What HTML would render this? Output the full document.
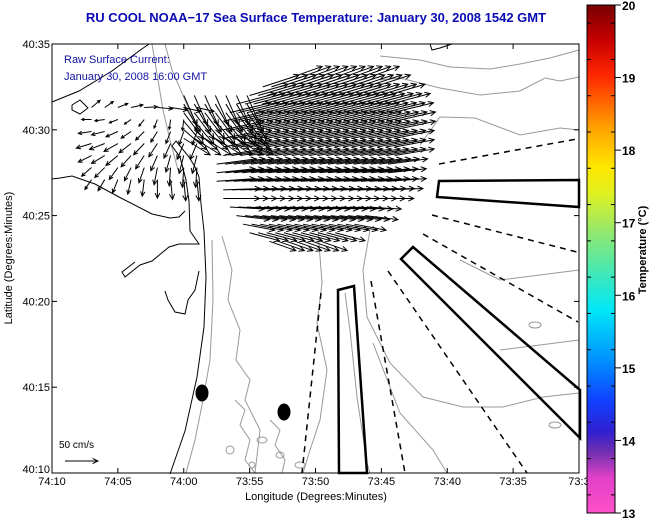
<!DOCTYPE html>
<html><head><meta charset="utf-8"><style>
html,body{margin:0;padding:0;background:#fff;}
svg{display:block;font-family:"Liberation Sans",Arial,sans-serif;}
</style></head><body>
<svg id="chart" width="651" height="518" viewBox="0 0 651 518">
<defs>
<linearGradient id="jet" x1="0" y1="1" x2="0" y2="0">
<stop offset="0" stop-color="#ff50c8"/>
<stop offset="0.07" stop-color="#e040c8"/>
<stop offset="0.12" stop-color="#7030b0"/>
<stop offset="0.16" stop-color="#3020d0"/>
<stop offset="0.22" stop-color="#1040ff"/>
<stop offset="0.30" stop-color="#0090ff"/>
<stop offset="0.40" stop-color="#00e8f8"/>
<stop offset="0.47" stop-color="#40e8b8"/>
<stop offset="0.55" stop-color="#90e870"/>
<stop offset="0.63" stop-color="#e0f020"/>
<stop offset="0.68" stop-color="#ffe800"/>
<stop offset="0.76" stop-color="#ffa000"/>
<stop offset="0.86" stop-color="#ff2800"/>
<stop offset="0.93" stop-color="#c80000"/>
<stop offset="1" stop-color="#780000"/>
</linearGradient>
</defs>
<rect x="0" y="0" width="651" height="518" fill="#fff"/>
<g id="gray" fill="none" stroke="#999" stroke-width="1"></g>
<g id="coast" fill="none" stroke="#000" stroke-width="1"></g>
<g id="lanes" fill="none" stroke="#000"></g>
<g id="arrows" fill="none" stroke="#000" stroke-width="1"></g>
<g id="axes"></g>
<text x="316" y="22" text-anchor="middle" font-size="13" font-weight="bold" fill="#0a0ab4">RU COOL  NOAA−17  Sea Surface Temperature:  January 30, 2008 1542 GMT</text>
<text x="64" y="63" font-size="11" fill="#1414a0">Raw Surface Current:</text>
<text x="64" y="80" font-size="11" fill="#1414a0">January 30, 2008 16:00 GMT</text>
<text x="59" y="448" font-size="10" fill="#000">50 cm/s</text>
<text x="316" y="500" text-anchor="middle" font-size="11" fill="#000">Longitude (Degrees:Minutes)</text>
<text transform="translate(12,258) rotate(-90)" text-anchor="middle" font-size="11" fill="#000">Latitude (Degrees:Minutes)</text>
<rect x="587" y="5" width="28" height="508" fill="url(#jet)" stroke="#000" stroke-width="1"/>
<g id="cbticks"></g>
<text transform="translate(646,250) rotate(-90)" text-anchor="middle" font-size="11" font-weight="bold" fill="#000">Temperature (°C)</text>
</svg>
<script>
// ---- data ----
const xTickLabels = ["74:10","74:05","74:00","73:55","73:50","73:45","73:40","73:35","73:3"];
const xTickMin = [70,65,60,55,50,45,40,35,30];
const yTickLabels = ["40:10","40:15","40:20","40:25","40:30","40:35"];
const yTickMin = [10,15,20,25,30,35];
const cbValues = [13,14,15,16,17,18,19,20];
// main current field rows
const rowLat = [33.0,32.5,32.0,31.5,31.0,30.5,30.0,29.5,29.0,28.5,28.0,27.5,27.0,26.5,26.0,25.5,25.0,24.5,24.0,23.5];
const rowW = [52,54,55,56,56.5,57,57,57,57,57,57.5,57.5,57.5,57,57,56.5,56,55.5,55,53.5];
const rowE = [46,45,44.5,44,44,44,44,44,44,44,44,44,44.5,44.5,45,45.5,46,47,48,49.5];
const rowU = [50,55,58,60,62,62,62,60,60,60,60,58,58,56,55,52,50,48,45,40];
const rowV = [18,18,17,16,15,14,13,12,11,10,8,6,4,2,0,-3,-6,-9,-12,-14];
// near-shore field
const leftLat = [31.3,30.6,29.9,29.2,28.5,27.8,27.1];
const leftLon = [67,66,65,64,63,62,61,60,59];
const leftU = [18,-10,-15,-18,-15,-10,-5];
const leftV = [6,-5,-8,-12,-15,-18,-20];
const leftColDU = [-5,-5,-3,0,2,5,8,8,8];
const leftColDV = [5,3,0,-2,-5,-8,-10,-12,-12];
// Sandy Hook field
const hookLat = [32.0,31.5,31.0,30.5,30.0,29.5];
const hookLon = [60.0,59.2,58.4,57.6,56.8,56.0,55.2];
const hookU = [20,25,30,30,35,40];
const hookV = [-45,-42,-40,-35,-30,-25];

// ---- scales ----
const X0=52,X1=579,Y0=44,Y1=473;
function xs(lonMin){return X0+(70-lonMin)*(X1-X0)/40;}
function ys(latMin){return Y1-(latMin-10)*(Y1-Y0)/25;}
const velScale = 33/50;
const NS="http://www.w3.org/2000/svg";
function mk(tag,attrs,parent){const e=document.createElementNS(NS,tag);for(const k in attrs)e.setAttribute(k,attrs[k]);parent.appendChild(e);return e;}

// ---- background map ----
const gray=document.getElementById('gray');
const grayLines=[
"212,240 213,300 210,360 203,400 195,440 186,473",
"222,236 232,270 228,300 240,330 236,360 250,380 245,400 260,430 255,473",
"318,230 322,283 317,323 327,370 320,420 310,450 303,473",
"345,293 350,330 357,397 367,463 370,473",
"370,230 363,270 367,317 390,363 423,397 463,407 503,407 543,397 579,393",
"373,343 400,413 433,450 447,473",
"380,56 420,60 450,67 490,69 520,64 550,58 579,50",
"380,80 400,78 440,88 480,95 520,91 545,78 560,81 579,77",
"420,145 440,117 475,118 520,135 560,128 579,130",
"152,44 158,80 163,110 170,140 178,170",
"165,44 172,70 185,100 198,130",
"460,260 500,280 540,275 579,270",
"500,350 540,345 579,340",
"235,400 245,410 240,425 250,440 245,460 255,473",
"270,420 280,430 275,445 285,460 282,473"];
grayLines.forEach(p=>{const e=mk('polyline',{points:p},gray);

});
[[262,440,5,3],[280,455,4,3],[230,450,4,4],[300,465,5,3],[252,465,3,3],[535,325,6,3],[555,425,6,3]].forEach(c=>{const e=mk('ellipse',{cx:c[0],cy:c[1],rx:c[2],ry:c[3]},gray);

});

const coast=document.getElementById('coast');
const coastLines=[
"170,474 185,431 197,377 204,327 206,277 204,231 201,204 199,177 195,167 189,157 176,141 172,146 180,157 186,180 189,201 190,231 199,244 189,244 179,244 169,247 152,261 140,265 125,277 122,272 135,262",
"52,179 60,178 72,176 95,184 119,197 152,214 170,218 179,217 185,211",
"52,102 79,91 112,71 139,51 149,44",
"165,291 168,300 175,312 185,314 188,300 195,290 199,271",
"430,44 432,50 440,48 452,44",
"72,105 80,100 88,108 80,114 72,110 72,105"];
coastLines.forEach(p=>{const e=mk('polyline',{points:p},coast);

});

// ---- shipping lanes ----
const lanes=document.getElementById('lanes');
[["439,181 579,180 579,207 437,197"],["401,259 413,247 580,390 580,438"],["338,290 354,286 367,473 339,473"]].forEach(p=>{const e=mk('polygon',{points:p[0],'stroke-width':2.5},lanes);

});
[[439,164,577,139],[432,215,577,252],[423,234,578,322],[388,271,527,473],[371,281,405,473],[321,293,302,473]].forEach(l=>{const e=mk('line',{x1:l[0],y1:l[1],x2:l[2],y2:l[3],'stroke-width':1.5,'stroke-dasharray':'6,5'},lanes);

});
[[202,393],[284,412]].forEach(c=>{const e=mk('ellipse',{cx:c[0],cy:c[1],rx:6.5,ry:8.5,fill:'#000',stroke:'none'},lanes);

});

// ---- arrows ----
const ag=document.getElementById('arrows');
function arrow(x,y,u,v,name){
  const dx=u*velScale, dy=-v*velScale;
  const x2=x+dx,y2=y+dy,L=Math.hypot(dx,dy)||1,a=Math.atan2(dy,dx),h=Math.min(6,L*0.3);
  const d=`M${x},${y}L${x2},${y2}M${x2-h*Math.cos(a-0.45)},${y2-h*Math.sin(a-0.45)}L${x2},${y2}L${x2-h*Math.cos(a+0.45)},${y2-h*Math.sin(a+0.45)}`;
  const e=mk('path',{d:d},ag);
  
  
}
rowLat.forEach((lat,i)=>{
  for(let lon=rowW[i]; lon>=rowE[i]-0.01; lon-=0.65){
    arrow(xs(lon),ys(lat),rowU[i],rowV[i],'current-vector');
  }
});
leftLat.forEach((lat,i)=>{
  leftLon.forEach((lon,j)=>{
    arrow(xs(lon),ys(lat),leftU[i]+leftColDU[j],leftV[i]+leftColDV[j],'nearshore-vector');
  });
});
hookLat.forEach((lat,i)=>{
  hookLon.forEach(lon=>{
    arrow(xs(lon),ys(lat),hookU[i],hookV[i],'hook-vector');
  });
});
arrow(65,461,50,0,'scale-arrow');

// ---- axes ----
const ax=document.getElementById('axes');
const frame=mk('rect',{x:X0,y:Y0,width:X1-X0,height:Y1-Y0,fill:'none',stroke:'#000','stroke-width':1},ax);


xTickMin.forEach((m,i)=>{
  const x=xs(m);
  mk('line',{x1:x,y1:Y1,x2:x,y2:Y1-5,stroke:'#000'},ax);
  mk('line',{x1:x,y1:Y0,x2:x,y2:Y0+5,stroke:'#000'},ax);
  const t=mk('text',{x:x,y:Y1+12,'text-anchor':'middle','font-size':11},ax);
  t.textContent=xTickLabels[i];
  
  
});
yTickMin.forEach((m,i)=>{
  const y=ys(m);
  mk('line',{x1:X0,y1:y,x2:X0+5,y2:y,stroke:'#000'},ax);
  mk('line',{x1:X1,y1:y,x2:X1-5,y2:y,stroke:'#000'},ax);
  const t=mk('text',{x:X0-2,y:y+(i===0?0:4),'text-anchor':'end','font-size':11},ax);
  t.textContent=yTickLabels[i];
  
  
});
// colorbar ticks
const cb=document.getElementById('cbticks');
function cy(v){return 513-(v-13)*(508/7);}
cbValues.forEach(v=>{
  const y=cy(v);
  mk('line',{x1:615,y1:y,x2:621,y2:y,stroke:'#000'},cb);
  const t=mk('text',{x:622,y:y+5,'font-size':12,'font-weight':'bold'},cb);
  t.textContent=String(v);
  
  
});
for(let v=13.125; v<20; v+=0.125*4){
  const y=cy(v+0.125);
  mk('line',{x1:587,y1:y,x2:591,y2:y,stroke:'#000'},cb);
  mk('line',{x1:611,y1:y,x2:615,y2:y,stroke:'#000'},cb);
}
</script>
</body></html>
